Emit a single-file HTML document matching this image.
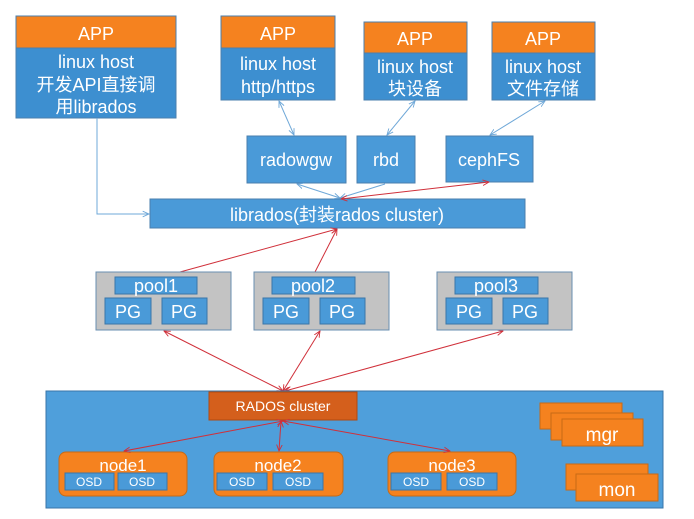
<!DOCTYPE html>
<html><head><meta charset="utf-8"><style>
body{margin:0;background:#fff}
svg{display:block}
text{font-family:"Liberation Sans","Noto Sans CJK SC",sans-serif;fill:#fff;text-anchor:middle}
</style></head><body>
<svg width="694" height="519" viewBox="0 0 694 519" xmlns="http://www.w3.org/2000/svg">
<defs>
<marker id="ab" viewBox="0 0 10 10" refX="9" refY="5" markerWidth="7" markerHeight="7" orient="auto-start-reverse"><path d="M0,1 L9,5 L0,9" fill="none" stroke="#6fa8d8" stroke-width="1.3"/></marker>
<marker id="ar" viewBox="0 0 10 10" refX="9" refY="5" markerWidth="7" markerHeight="7" orient="auto-start-reverse"><path d="M0,1 L9,5 L0,9" fill="none" stroke="#d0303a" stroke-width="1.3"/></marker>
</defs>
<g stroke="#4a7fae" stroke-width="1">
<rect x="16" y="16" width="160" height="32" fill="#f5821f"/>
<rect x="16" y="48" width="160" height="70" fill="#3d8fd0"/>
<rect x="221" y="16" width="114" height="32" fill="#f5821f"/>
<rect x="221" y="48" width="114" height="52" fill="#3d8fd0"/>
<rect x="364" y="22" width="103" height="31" fill="#f5821f"/>
<rect x="364" y="53" width="103" height="47" fill="#3d8fd0"/>
<rect x="492" y="22" width="103" height="31" fill="#f5821f"/>
<rect x="492" y="53" width="103" height="47" fill="#3d8fd0"/>
<rect x="247" y="136" width="99" height="47" fill="#4a9ad8"/>
<rect x="357" y="136" width="58" height="47" fill="#4a9ad8"/>
<rect x="446" y="136" width="87" height="46" fill="#4a9ad8"/>
<rect x="150" y="199" width="375" height="29" fill="#4a9ad8"/>
</g>
<g font-size="18">
<text x="96" y="40">APP</text>
<text x="96" y="68">linux host</text>
<text x="96" y="91">开发API直接调</text>
<text x="96" y="113">用librados</text>
<text x="278" y="40">APP</text>
<text x="278" y="70">linux host</text>
<text x="278" y="93">http/https</text>
<text x="415" y="45">APP</text>
<text x="415" y="73">linux host</text>
<text x="415" y="95">块设备</text>
<text x="543" y="45">APP</text>
<text x="543" y="73">linux host</text>
<text x="543" y="95">文件存储</text>
<text x="296" y="166">radowgw</text>
<text x="386" y="166">rbd</text>
<text x="489" y="166">cephFS</text>
<text x="337" y="221">librados(封装rados cluster)</text>
</g>
<g fill="none" stroke="#6fa8d8" stroke-width="1">
<path d="M97,118 V214 H149" marker-end="url(#ab)"/>
<line x1="279" y1="101" x2="294" y2="135" marker-start="url(#ab)" marker-end="url(#ab)"/>
<line x1="415" y1="101" x2="387" y2="135" marker-start="url(#ab)" marker-end="url(#ab)"/>
<line x1="545" y1="101" x2="490" y2="135" marker-start="url(#ab)" marker-end="url(#ab)"/>
<line x1="297" y1="184" x2="340" y2="198" marker-start="url(#ab)" marker-end="url(#ab)"/>
<line x1="385" y1="184" x2="340" y2="198" marker-end="url(#ab)"/>
</g>
<g fill="none" stroke="#d0303a" stroke-width="1">
<line x1="489" y1="182" x2="341" y2="199" marker-start="url(#ar)" marker-end="url(#ar)"/>
<line x1="337" y1="229" x2="180" y2="272" marker-start="url(#ar)"/>
<line x1="337" y1="229" x2="315" y2="272" marker-start="url(#ar)"/>
<line x1="164" y1="331" x2="283" y2="391" marker-start="url(#ar)" marker-end="url(#ar)"/>
<line x1="320" y1="331" x2="283" y2="391" marker-start="url(#ar)" marker-end="url(#ar)"/>
<line x1="503" y1="331" x2="285" y2="391" marker-start="url(#ar)" marker-end="url(#ar)"/>
</g>
<g stroke="#6a8fb0" stroke-width="1">
<rect x="96" y="272" width="135" height="58" fill="#c3c3c3"/>
<rect x="254" y="272" width="135" height="58" fill="#c3c3c3"/>
<rect x="437" y="272" width="135" height="58" fill="#c3c3c3"/>
</g>
<g stroke="#3a76a8" stroke-width="1" fill="#4a9ad8">
<rect x="115" y="277" width="82" height="17"/>
<rect x="105" y="298" width="46" height="26"/>
<rect x="162" y="298" width="45" height="26"/>
<rect x="272" y="277" width="83" height="17"/>
<rect x="263" y="298" width="46" height="26"/>
<rect x="320" y="298" width="45" height="26"/>
<rect x="455" y="277" width="83" height="17"/>
<rect x="446" y="298" width="46" height="26"/>
<rect x="503" y="298" width="45" height="26"/>
</g>
<g font-size="18">
<text x="156" y="292">pool1</text>
<text x="313" y="292">pool2</text>
<text x="496" y="292">pool3</text>
<text x="128" y="318">PG</text><text x="184" y="318">PG</text>
<text x="286" y="318">PG</text><text x="342" y="318">PG</text>
<text x="469" y="318">PG</text><text x="525" y="318">PG</text>
</g>
<rect x="46" y="391" width="617" height="117" fill="#4f9fdb" stroke="#3a76a8"/>
<rect x="209" y="392" width="148" height="28" fill="#d45f1c" stroke="#b04a10"/>
<text x="283" y="411" font-size="14">RADOS cluster</text>
<g fill="#f5821f" stroke="#c86a15">
<rect x="59" y="452" width="128" height="44" rx="7"/>
<rect x="214" y="452" width="129" height="44" rx="7"/>
<rect x="388" y="452" width="128" height="44" rx="7"/>
<rect x="540" y="403" width="82" height="26"/>
<rect x="551" y="413" width="82" height="27"/>
<rect x="562" y="419" width="81" height="27"/>
<rect x="566" y="464" width="82" height="26"/>
<rect x="576" y="474" width="82" height="27"/>
</g>
<g fill="#4a9ad8" stroke="#3a76a8">
<rect x="65" y="473" width="49" height="17"/><rect x="118" y="473" width="49" height="17"/>
<rect x="217" y="473" width="50" height="17"/><rect x="273" y="473" width="50" height="17"/>
<rect x="391" y="473" width="50" height="17"/><rect x="447" y="473" width="50" height="17"/>
</g>
<g font-size="17">
<text x="123" y="471">node1</text>
<text x="278" y="471">node2</text>
<text x="452" y="471">node3</text>
<text x="602" y="441" font-size="19">mgr</text>
<text x="617" y="496" font-size="19">mon</text>
</g>
<g font-size="12">
<text x="89" y="486">OSD</text><text x="142" y="486">OSD</text>
<text x="242" y="486">OSD</text><text x="298" y="486">OSD</text>
<text x="416" y="486">OSD</text><text x="472" y="486">OSD</text>
</g>
<g fill="none" stroke="#d0303a" stroke-width="1">
<line x1="283" y1="421" x2="124" y2="451" marker-start="url(#ar)" marker-end="url(#ar)"/>
<line x1="281" y1="421" x2="279" y2="451" marker-start="url(#ar)" marker-end="url(#ar)"/>
<line x1="283" y1="421" x2="450" y2="451" marker-start="url(#ar)" marker-end="url(#ar)"/>
</g>
</svg>
</body></html>
